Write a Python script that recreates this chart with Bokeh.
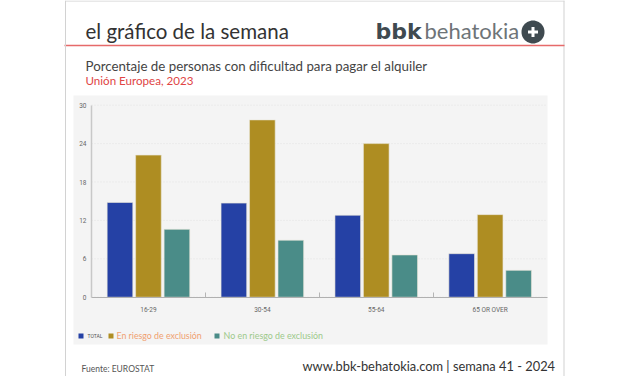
from bokeh.plotting import figure
from bokeh.embed import file_html
from bokeh.resources import INLINE
from bokeh.models import Label, BoxAnnotation, PolyAnnotation, Range1d, FixedTicker, ColumnDataSource
import math

categories = ["16-29", "30-54", "55-64", "65 OR OVER"]
total = [14.8, 14.7, 12.8, 6.8]
en_riesgo = [22.2, 27.7, 24.0, 12.9]
no_riesgo = [10.6, 8.9, 6.6, 4.2]
y_ticks = [0, 6, 12, 18, 24, 30]
BLUE, GOLD, TEAL = "#2541a5", "#ae8d22", "#4a8c88"

W, H = 627, 376
X0, XU = 91, 113.9      # canvas px of x=0, px per group
Y0, YU = 296.7, 6.4     # canvas px of y=0, px per percentage point
p = figure(width=W, height=H, output_backend="svg", toolbar_location=None,
           x_range=Range1d(-X0 / XU, (W - X0) / XU), y_range=Range1d((Y0 - H) / YU, Y0 / YU),
           min_border=0,
           background_fill_color="white", border_fill_color="white", outline_line_color=None)

def sy(y):
    return H - y

def box(l, r, t, b, color, level="underlay"):
    p.add_layout(BoxAnnotation(left=l, right=r, top=sy(t), bottom=sy(b),
                               left_units="screen", right_units="screen", top_units="screen", bottom_units="screen",
                               fill_color=color, fill_alpha=1, line_color=None, level=level))

def label(x, y, text, size, color, font="Open Sans", style="normal", align="left"):
    p.add_layout(Label(x=x, y=sy(y), x_units="screen", y_units="screen", text=text,
                       text_font=font, text_font_size=f"{size}px", text_color=color, text_font_style=style,
                       text_align=align, text_baseline="alphabetic"))

# panel and page frame
box(73, 547, 95, 344, "#f4f4f4")
box(65, 564, 0, 1, "#d2d2d2")
box(563, 564, 0, 376, "#d2d2d2")
box(64, 564, 44.3, 45.8, "#e66a6a")

# grid
grid_end = (547 - X0) / XU
p.segment(x0=[0] * len(y_ticks), x1=[grid_end] * len(y_ticks), y0=y_ticks, y1=y_ticks,
          line_color="#e3e3e3", line_width=1, line_dash="1 2")

# bars
for values, off, col in ((total, 0.25, BLUE), (en_riesgo, 0.5, GOLD), (no_riesgo, 0.75, TEAL)):
    src = ColumnDataSource(dict(x=[i + off for i in range(len(categories))], top=values))
    p.vbar(x="x", top="top", width=0.225, bottom=0, source=src, fill_color=col,
           line_color="#e9e6d8", line_width=0.6)

# axes
p.xaxis.fixed_location = 0
p.yaxis.fixed_location = 0
p.xaxis.bounds = (0, grid_end)
p.yaxis.bounds = (0, 30)
p.xaxis.ticker = FixedTicker(ticks=[i + 0.5 for i in range(len(categories))],
                             minor_ticks=list(range(1, len(categories))))
p.xaxis.major_label_overrides = {i + 0.5: c for i, c in enumerate(categories)}
p.xaxis.major_tick_line_color = None
p.xaxis.major_tick_out = 0
p.xaxis.major_tick_in = 0
p.xaxis.minor_tick_in = 5
p.xaxis.minor_tick_out = 0
p.xaxis.minor_tick_line_color = "#b5b5b5"
p.xaxis.axis_line_color = "#b0b0b0"
p.xaxis.axis_line_width = 1
p.xaxis.major_label_standoff = 9
p.yaxis.ticker = FixedTicker(ticks=y_ticks)
p.yaxis.major_tick_line_color = None
p.yaxis.major_tick_out = 0
p.yaxis.major_tick_in = 0
p.yaxis.minor_tick_line_color = None
p.yaxis.axis_line_color = "#c8c8c8"
p.yaxis.axis_line_width = 1.5
p.yaxis.major_label_standoff = 5
for ax in (p.xaxis, p.yaxis):
    ax.major_label_text_font = "Roboto"
    ax.major_label_text_font_size = "6.5px"
    ax.major_label_text_color = "#666666"
p.xgrid.visible = False
p.ygrid.visible = False

# left page border
box(64.5, 65.5, 0, 376, "#d2d2d2")

# header
label(85, 30, "el gráfico de la semana", 20.5, "#333333", font="Lato")
label(375, 31, "bbk", 22, "#3f4a50", font="DejaVu Sans", style="bold")
label(424, 30, "behatokia", 22, "#6e7478", font="Lato")
n = 48
p.add_layout(PolyAnnotation(xs=[532.5 + 11.5 * math.cos(2 * math.pi * k / n) for k in range(n)],
                            ys=[sy(31.5) + 11.5 * math.sin(2 * math.pi * k / n) for k in range(n)],
                            xs_units="screen", ys_units="screen",
                            fill_color="#3f4a50", fill_alpha=1, line_color=None, level="annotation"))
box(527.5, 537.5, 30, 33, "white", level="overlay")
box(531, 534, 26.5, 36.5, "white", level="overlay")
label(85, 65, "Porcentaje de personas con dificultad para pagar el alquiler", 13.3, "#444444", font="Lato")
label(85, 80, "Unión Europea, 2023", 11.6, "#e04545", font="Lato")

# legend
box(78, 83, 333, 338, BLUE)
box(108, 113, 333, 338, GOLD)
box(214, 219, 333, 338, TEAL)
label(87, 335, "TOTAL", 5, "#555555", font="Roboto")
label(116, 335, "En riesgo de exclusión", 8.8, "#f0a070", font="Lato")
label(223, 335, "No en riesgo de exclusión", 8.9, "#9cc98a", font="Lato")

# footer
label(81, 368, "Fuente: EUROSTAT", 8.5, "#555555", font="Lato")
label(302, 365, "www.bbk-behatokia.com | semana 41 - 2024", 12.85, "#333333", font="Lato")

open("out.html", "w").write(file_html(p, INLINE))
